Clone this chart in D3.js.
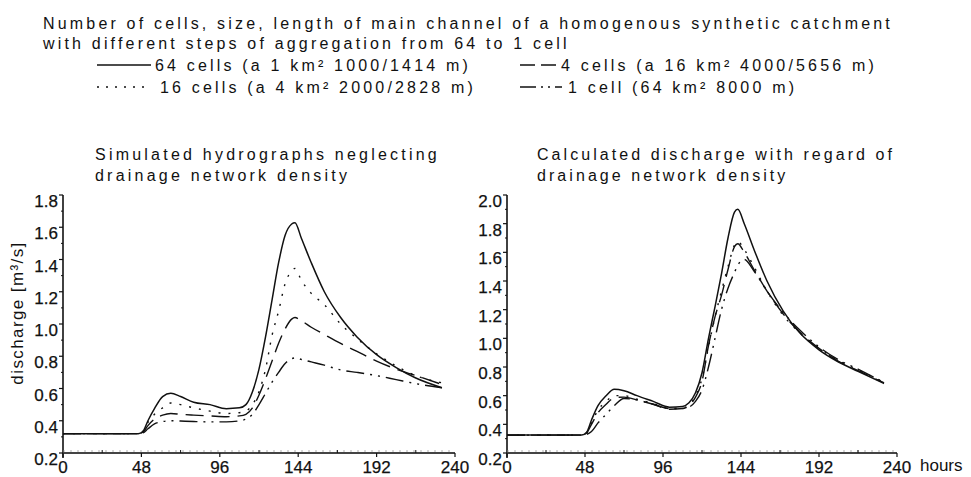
<!DOCTYPE html>
<html><head><meta charset="utf-8">
<script src="https://cdn.jsdelivr.net/npm/d3@7"></script>
<style>
body{margin:0;background:#fff}
svg{display:block}
text{font-family:"Liberation Sans",Arial,Helvetica,sans-serif;fill:#111}
</style>
</head><body>
<svg id="c" width="971" height="477"></svg>
<script>
// ---------------- data ----------------
const titleLines = [
  "Number of cells, size, length of main channel of a homogenous synthetic catchment",
  "with different steps of aggregation from 64 to 1 cell"
];
const seriesLabels = [
  "64 cells (a 1 km\u00b2 1000/1414 m)",
  "16 cells (a 4 km\u00b2 2000/2828 m)",
  "4 cells (a 16 km\u00b2 4000/5656 m)",
  "1 cell (64 km\u00b2 8000 m)"
];
const leftTitle = ["Simulated hydrographs neglecting", "drainage network density"];
const rightTitle = ["Calculated discharge with regard of", "drainage network density"];
const yLabel = "discharge [m\u00b3/s]";
const xUnit = "hours";
const xTicks = [0, 48, 96, 144, 192, 240];
const leftYTicks = [0.2, 0.4, 0.6, 0.8, 1.0, 1.2, 1.4, 1.6, 1.8];
const rightYTicks = [0.2, 0.4, 0.6, 0.8, 1.0, 1.2, 1.4, 1.6, 1.8, 2.0];

const hours = [0, 46, 49, 52, 56, 61, 66, 72, 80, 90, 100, 108, 112, 116, 120, 124, 128, 132, 136, 140, 142, 146, 152, 160, 170, 180, 192, 204, 216, 232];

// left panel: simulated hydrographs neglecting drainage network density
const left64 = [0.32, 0.32, 0.335, 0.40, 0.475, 0.55, 0.57, 0.55, 0.515, 0.50, 0.475, 0.48, 0.50, 0.58, 0.72, 0.92, 1.15, 1.38, 1.55, 1.62, 1.628, 1.53, 1.38, 1.20, 1.04, 0.92, 0.81, 0.73, 0.665, 0.605];
const left16 = [0.32, 0.32, 0.335, 0.39, 0.44, 0.48, 0.51, 0.50, 0.48, 0.46, 0.445, 0.45, 0.46, 0.50, 0.58, 0.72, 0.93, 1.08, 1.25, 1.33, 1.345, 1.27, 1.19, 1.12, 1.00, 0.91, 0.815, 0.74, 0.68, 0.635];
const left4  = [0.32, 0.32, 0.33, 0.37, 0.41, 0.435, 0.445, 0.44, 0.435, 0.43, 0.425, 0.43, 0.44, 0.48, 0.56, 0.66, 0.77, 0.88, 0.97, 1.03, 1.04, 1.02, 0.98, 0.935, 0.88, 0.83, 0.77, 0.72, 0.68, 0.625];
const left1  = [0.32, 0.32, 0.325, 0.35, 0.38, 0.395, 0.40, 0.398, 0.395, 0.393, 0.393, 0.40, 0.41, 0.44, 0.50, 0.57, 0.64, 0.70, 0.755, 0.785, 0.79, 0.78, 0.765, 0.745, 0.715, 0.70, 0.68, 0.655, 0.63, 0.605];

// right panel: calculated discharge with regard of drainage network density
const right64 = [0.325, 0.325, 0.345, 0.43, 0.53, 0.60, 0.645, 0.635, 0.60, 0.56, 0.52, 0.525, 0.55, 0.62, 0.76, 1.00, 1.22, 1.45, 1.70, 1.88, 1.90, 1.80, 1.62, 1.40, 1.19, 1.04, 0.92, 0.835, 0.77, 0.685];
const right16 = [0.325, 0.325, 0.34, 0.41, 0.50, 0.56, 0.60, 0.60, 0.575, 0.545, 0.51, 0.515, 0.535, 0.60, 0.72, 0.94, 1.15, 1.33, 1.50, 1.65, 1.675, 1.62, 1.50, 1.33, 1.16, 1.04, 0.93, 0.845, 0.78, 0.695];
const right4  = [0.325, 0.325, 0.34, 0.40, 0.48, 0.54, 0.585, 0.59, 0.57, 0.54, 0.505, 0.51, 0.53, 0.59, 0.70, 0.95, 1.15, 1.30, 1.48, 1.64, 1.66, 1.60, 1.48, 1.33, 1.17, 1.045, 0.93, 0.84, 0.775, 0.69];
const right1  = [0.325, 0.325, 0.33, 0.35, 0.41, 0.47, 0.53, 0.58, 0.57, 0.54, 0.51, 0.51, 0.52, 0.56, 0.64, 0.80, 1.00, 1.20, 1.35, 1.46, 1.51, 1.55, 1.47, 1.33, 1.18, 1.06, 0.94, 0.85, 0.785, 0.69];

// ---------------- styles ----------------
const dashStyles = ["none", "2,8", "18,8", "18,6,2,6,2,6"];
const legendDash = ["none", "2,7", "15,6", "16,5,2,5,2,5"];
const FONT = 16;

const svg = d3.select("#c");

function fitSpacing(sel, target) {
  sel.attr("letter-spacing", 0);
  const w = sel.node().getComputedTextLength();
  const n = sel.text().length;
  return (target - w) / n;
}

// ---------------- header ----------------
const t1 = svg.append("text").attr("x", 43).attr("y", 29).attr("font-size", FONT).text(titleLines[0]);
const lsTitle = fitSpacing(t1, 850);
t1.attr("letter-spacing", lsTitle);
svg.append("text").attr("x", 43).attr("y", 49).attr("font-size", FONT).attr("letter-spacing", lsTitle).text(titleLines[1]);

// legend
const legendPos = [
  {x: 97, x2: 151, y: 65, tx: 155},
  {x: 97, x2: 151, y: 87, tx: 160},
  {x: 520, x2: 557, y: 65, tx: 561},
  {x: 520, x2: 562, y: 87, tx: 568}
];
seriesLabels.forEach((lab, i) => {
  const p = legendPos[i];
  svg.append("line").attr("x1", p.x).attr("x2", p.x2).attr("y1", p.y).attr("y2", p.y)
    .attr("stroke", "#111").attr("stroke-width", 1.3)
    .attr("stroke-dasharray", legendDash[i] === "none" ? null : legendDash[i]);
  svg.append("text").attr("x", p.tx).attr("y", p.y + 5.5).attr("font-size", FONT)
    .attr("letter-spacing", lsTitle).text(lab);
});

// ---------------- panels ----------------
function panel(opt) {
  const x = d3.scaleLinear().domain([0, 240]).range([opt.x0, opt.x1]);
  const y = d3.scaleLinear().domain(opt.yDomain).range([453, 195]);
  const g = svg.append("g");

  // titles
  const tt = g.append("text").attr("x", opt.titleX).attr("y", 160).attr("font-size", FONT).text(opt.title[0]);
  const ls = fitSpacing(tt, opt.titleW);
  tt.attr("letter-spacing", ls);
  g.append("text").attr("x", opt.titleX).attr("y", 181).attr("font-size", FONT).attr("letter-spacing", ls).text(opt.title[1]);

  const y0 = y(opt.yDomain[0]);
  // axes lines
  g.append("line").attr("x1", x(0)).attr("x2", x(0)).attr("y1", y(opt.yDomain[1])).attr("y2", y0 + 5)
    .attr("stroke", "#111").attr("stroke-width", 1.6);
  g.append("line").attr("x1", x(0)).attr("x2", x(240)).attr("y1", y0).attr("y2", y0)
    .attr("stroke", "#444").attr("stroke-width", 2);
  g.append("line").attr("x1", x(0)).attr("x2", x(240)).attr("y1", y0 - 2).attr("y2", y0 - 2)
    .attr("stroke", "#999").attr("stroke-width", 0.8).attr("stroke-dasharray", "2,5");

  // y ticks major + labels
  opt.yTicks.forEach(v => {
    g.append("line").attr("x1", x(0) - 4).attr("x2", x(0)).attr("y1", y(v)).attr("y2", y(v))
      .attr("stroke", "#111").attr("stroke-width", 1.2);
    g.append("text").attr("x", x(0) - 5).attr("y", y(v) + 12).attr("text-anchor", "end")
      .attr("font-size", 17).attr("stroke", "#111").attr("stroke-width", 0.25)
      .text(d3.format(".1f")(v));
  });
  // y minor ticks
  d3.range(opt.yDomain[0] + 0.1, opt.yDomain[1], 0.2).forEach(v => {
    g.append("line").attr("x1", x(0) - 2).attr("x2", x(0)).attr("y1", y(v)).attr("y2", y(v))
      .attr("stroke", "#111").attr("stroke-width", 1);
  });
  // x ticks
  xTicks.forEach(v => {
    g.append("line").attr("x1", x(v)).attr("x2", x(v)).attr("y1", y0).attr("y2", y0 + 4)
      .attr("stroke", "#111").attr("stroke-width", 1.2);
    g.append("text").attr("x", x(v)).attr("y", 473).attr("text-anchor", "middle")
      .attr("font-size", 17).attr("stroke", "#111").attr("stroke-width", 0.25).text(v);
  });
  d3.range(24, 240, 48).forEach(v => {
    g.append("line").attr("x1", x(v)).attr("x2", x(v)).attr("y1", y0 - 3).attr("y2", y0)
      .attr("stroke", "#111").attr("stroke-width", 1);
  });

  // series
  const line = d3.line().x((d, i) => x(hours[i])).y(d => y(d)).curve(d3.curveMonotoneX);
  opt.series.forEach((s, i) => {
    g.append("path").attr("d", line(s)).attr("fill", "none").attr("stroke", "#111")
      .attr("stroke-width", i === 0 ? 1.5 : 1.4)
      .attr("stroke-dasharray", dashStyles[i] === "none" ? null : dashStyles[i]);
  });
  return {x, y};
}

panel({x0: 63, x1: 455, yDomain: [0.2, 1.8], yTicks: leftYTicks, title: leftTitle, titleX: 95, titleW: 345,
       series: [left64, left16, left4, left1]});
panel({x0: 507, x1: 897, yDomain: [0.2, 2.0], yTicks: rightYTicks, title: rightTitle, titleX: 537, titleW: 358,
       series: [right64, right16, right4, right1]});

// y axis label
svg.append("text").attr("transform", "translate(23,313) rotate(-90)").attr("text-anchor", "middle")
  .attr("font-size", 17).attr("letter-spacing", 1.4).text(yLabel);
// x unit
svg.append("text").attr("x", 920).attr("y", 471).attr("font-size", 17).text(xUnit);
</script>
</body></html>
